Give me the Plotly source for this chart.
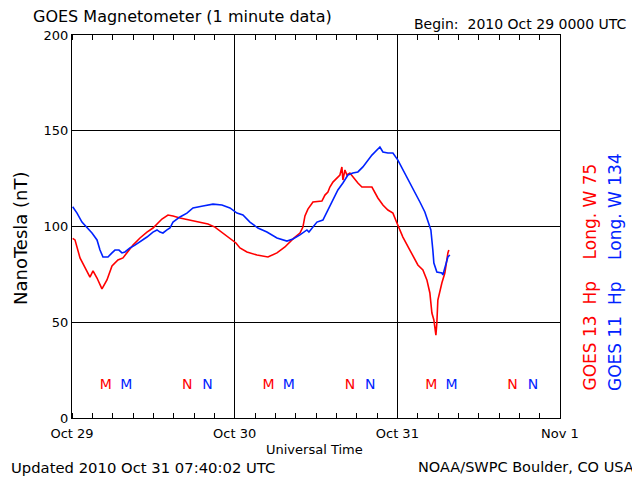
import plotly.graph_objects as go

# hours since 2010 Oct 29 00:00 UTC
g13_hours = [0.1, 0.44, 1.18, 1.92, 2.65, 3.1, 3.69, 4.42, 5.16, 5.9, 6.78, 7.52, 8.26, 9.0, 10.03, 11.06,
             11.95, 12.83, 13.27, 14.16, 14.9, 15.93, 17.4, 18.88, 20.06, 21.09, 22.12, 23.3, 24.19, 24.78,
             25.81, 27.29, 28.91, 30.24, 31.42, 32.6, 33.63, 34.07, 34.37, 34.81, 35.55, 36.87, 37.32, 37.76,
             38.05, 38.5, 39.09, 39.53, 39.82, 39.97, 40.27, 40.56, 41.0, 41.44, 42.18, 42.77, 44.25, 45.13,
             45.87, 46.61, 47.35, 47.94, 48.82, 49.85, 51.03, 51.77, 52.36, 52.8, 53.1, 53.39, 53.69, 53.83,
             53.98, 54.57, 55.01, 55.46, 55.6]
g13_nt = [93.8, 93.0, 83.6, 78.9, 73.6, 76.8, 73.1, 67.4, 72.1, 79.4, 82.5, 83.6, 86.7, 90.3, 94.0, 97.1,
          99.2, 102.3, 103.9, 106.0, 105.5, 104.4, 103.4, 102.3, 101.3, 99.7, 97.1, 94.0, 91.4, 88.8,
          86.7, 85.1, 84.1, 86.2, 89.3, 93.5, 96.6, 99.7, 105.5, 109.1, 112.8, 113.3, 116.4, 118.0,
          120.6, 123.2, 125.3, 126.9, 131.1, 124.3, 129.5, 126.9, 127.9, 125.8, 122.7, 120.6, 120.6, 114.9,
          111.2, 108.6, 107.0, 101.8, 94.5, 87.7, 79.9, 77.3, 72.1, 65.3, 54.8, 51.2, 43.3, 49.6,
          61.6, 70.5, 75.7, 86.2, 87.7]

g11_hours = [0.1, 0.74, 1.47, 2.21, 2.95, 3.69, 4.13, 4.57, 5.31, 5.9, 6.34, 6.93, 7.37, 7.82, 8.55, 9.29,
             10.03, 11.06, 11.95, 12.54, 12.98, 13.42, 14.01, 14.45, 14.9, 15.93, 16.96, 17.85, 19.32, 20.8,
             22.12, 23.3, 24.34, 25.22, 26.25, 27.43, 28.76, 30.24, 31.71, 32.6, 33.63, 34.66, 34.96, 35.55,
             36.14, 37.02, 37.76, 38.5, 39.23, 39.97, 40.71, 41.44, 42.18, 42.92, 43.51, 44.25, 45.43, 45.87,
             46.61, 47.35, 48.08, 49.11, 49.85, 50.59, 51.33, 52.06, 52.51, 52.95, 53.24, 53.39, 53.83, 54.57,
             54.72, 55.01, 55.46, 55.75]
g11_nt = [110.3, 107.0, 102.3, 99.7, 96.6, 93.0, 87.7, 84.1, 84.1, 86.2, 87.7, 87.7, 86.2, 86.7, 88.8, 90.3,
          91.9, 94.5, 97.1, 98.2, 97.1, 96.6, 98.2, 99.2, 102.3, 105.0, 107.0, 109.7, 110.7, 111.7,
          111.2, 109.7, 107.0, 106.0, 102.3, 99.2, 97.1, 94.0, 92.4, 93.5, 95.6, 98.2, 97.1, 99.7,
          102.3, 103.4, 108.6, 113.8, 119.1, 122.7, 126.9, 127.9, 128.5, 131.1, 133.7, 137.3, 141.5, 138.9,
          138.4, 138.4, 134.7, 127.9, 122.7, 117.5, 112.8, 107.6, 102.3, 98.2, 87.7, 80.9, 76.2, 75.7,
          74.7, 78.9, 84.1, 85.1]

# local midnight (M) / noon (N) markers, hours since start
g13_m_hours = [5, 29, 53]
g13_n_hours = [17, 41, 65]
g11_m_hours = [8, 32, 56]
g11_n_hours = [20, 44, 68]
marker_level = 17

x_tick_vals = [0, 24, 48, 72]
x_tick_text = ["Oct 29", "Oct 30", "Oct 31", "Nov 1"]
y_tick_vals = [0, 50, 100, 150, 200]

RED = "#ff0000"
BLUE = "#0022ff"
FONT = "DejaVu Sans"

# page has an 8px body margin; figure coordinates are page coordinates minus 8
OFF = 8
FIG_W, FIG_H = 640 - OFF, 480 - OFF
L, T, PW, PH = 72, 35, 488, 383  # plot area in page pixels

fig = go.Figure()
fig.add_trace(go.Scatter(x=g13_hours, y=g13_nt, mode="lines", line=dict(color=RED, width=1.6), showlegend=False))
fig.add_trace(go.Scatter(x=g11_hours, y=g11_nt, mode="lines", line=dict(color=BLUE, width=1.6), showlegend=False))

for hrs, label, col in [(g13_m_hours, "M", RED), (g11_m_hours, "M", BLUE),
                        (g13_n_hours, "N", RED), (g11_n_hours, "N", BLUE)]:
    fig.add_trace(go.Scatter(x=hrs, y=[marker_level] * len(hrs), mode="text", text=[label] * len(hrs),
                             textfont=dict(color=col, size=14, family=FONT), showlegend=False))

# empty trace so the top axis (for the mirrored minor ticks) is drawn
fig.add_trace(go.Scatter(x=[], y=[], xaxis="x2", yaxis="y", showlegend=False, hoverinfo="skip"))

minor_ticks = dict(dtick=3, tick0=0, ticks="inside", ticklen=5, tickcolor="black", showgrid=False)

fig.update_layout(
    xaxis=dict(range=[0, 72], tickvals=x_tick_vals, ticktext=x_tick_text, showgrid=True,
               gridcolor="black", gridwidth=1, ticks="", showline=True, linecolor="black", linewidth=1,
               mirror=True, zeroline=False, minor=minor_ticks, ticklabelstandoff=3,
               tickfont=dict(family=FONT, size=13, color="black")),
    xaxis2=dict(range=[0, 72], overlaying="x", side="top", anchor="y", tickvals=x_tick_vals,
                showticklabels=False, showgrid=False, ticks="", showline=False, zeroline=False,
                minor=minor_ticks),
    yaxis=dict(range=[0, 200], tickvals=y_tick_vals, showgrid=True, gridcolor="black", gridwidth=1,
               ticks="", showline=True, linecolor="black", linewidth=1, mirror=True, zeroline=False,
               tickfont=dict(family=FONT, size=13, color="black")),
)


def px(x):
    return (x - L) / PW


def py(y):
    return (T + PH - y) / PH


ann = [
    dict(text="GOES Magnetometer (1 minute data)", x=px(31), y=py(17), xanchor="left", size=16),
    dict(text="Begin:  2010 Oct 29 0000 UTC", x=px(629), y=py(24), xanchor="right", size=14),
    dict(text="Universal Time", x=px(314), y=py(449), xanchor="center", size=13),
    dict(text="Updated 2010 Oct 31 07:40:02 UTC", x=px(9), y=py(467), xanchor="left", size=14.8),
    dict(text="NOAA/SWPC Boulder, CO USA", x=px(636), y=py(467), xanchor="right", size=14.5),
]
for a in ann:
    fig.add_annotation(text=a["text"], x=a["x"], y=a["y"], xref="paper", yref="paper", xanchor=a["xanchor"],
                       yanchor="middle", showarrow=False, font=dict(family=FONT, size=a["size"], color="black"))

fig.add_annotation(text="NanoTesla (nT)", x=px(20), y=py(238), xref="paper", yref="paper", textangle=-90,
                   xanchor="center", yanchor="middle", showarrow=False, font=dict(family=FONT, size=18, color="black"))
fig.add_annotation(text="GOES 13&nbsp; Hp&nbsp;&nbsp;&nbsp; Long. W 75", x=px(589), y=py(393), xref="paper",
                   yref="paper", textangle=-90, xanchor="center", yanchor="bottom", showarrow=False,
                   font=dict(family=FONT, size=17, color=RED))
fig.add_annotation(text="GOES 11&nbsp; Hp&nbsp;&nbsp;&nbsp; Long. W 134", x=px(615), y=py(393), xref="paper",
                   yref="paper", textangle=-90, xanchor="center", yanchor="bottom", showarrow=False,
                   font=dict(family=FONT, size=17, color=BLUE))

fig.update_layout(width=FIG_W, height=FIG_H,
                  margin=dict(l=L - OFF, r=FIG_W - (L - OFF) - PW, t=T - OFF, b=FIG_H - (T - OFF) - PH),
                  paper_bgcolor="white", plot_bgcolor="white", showlegend=False)

fig.write_html("out.html")
